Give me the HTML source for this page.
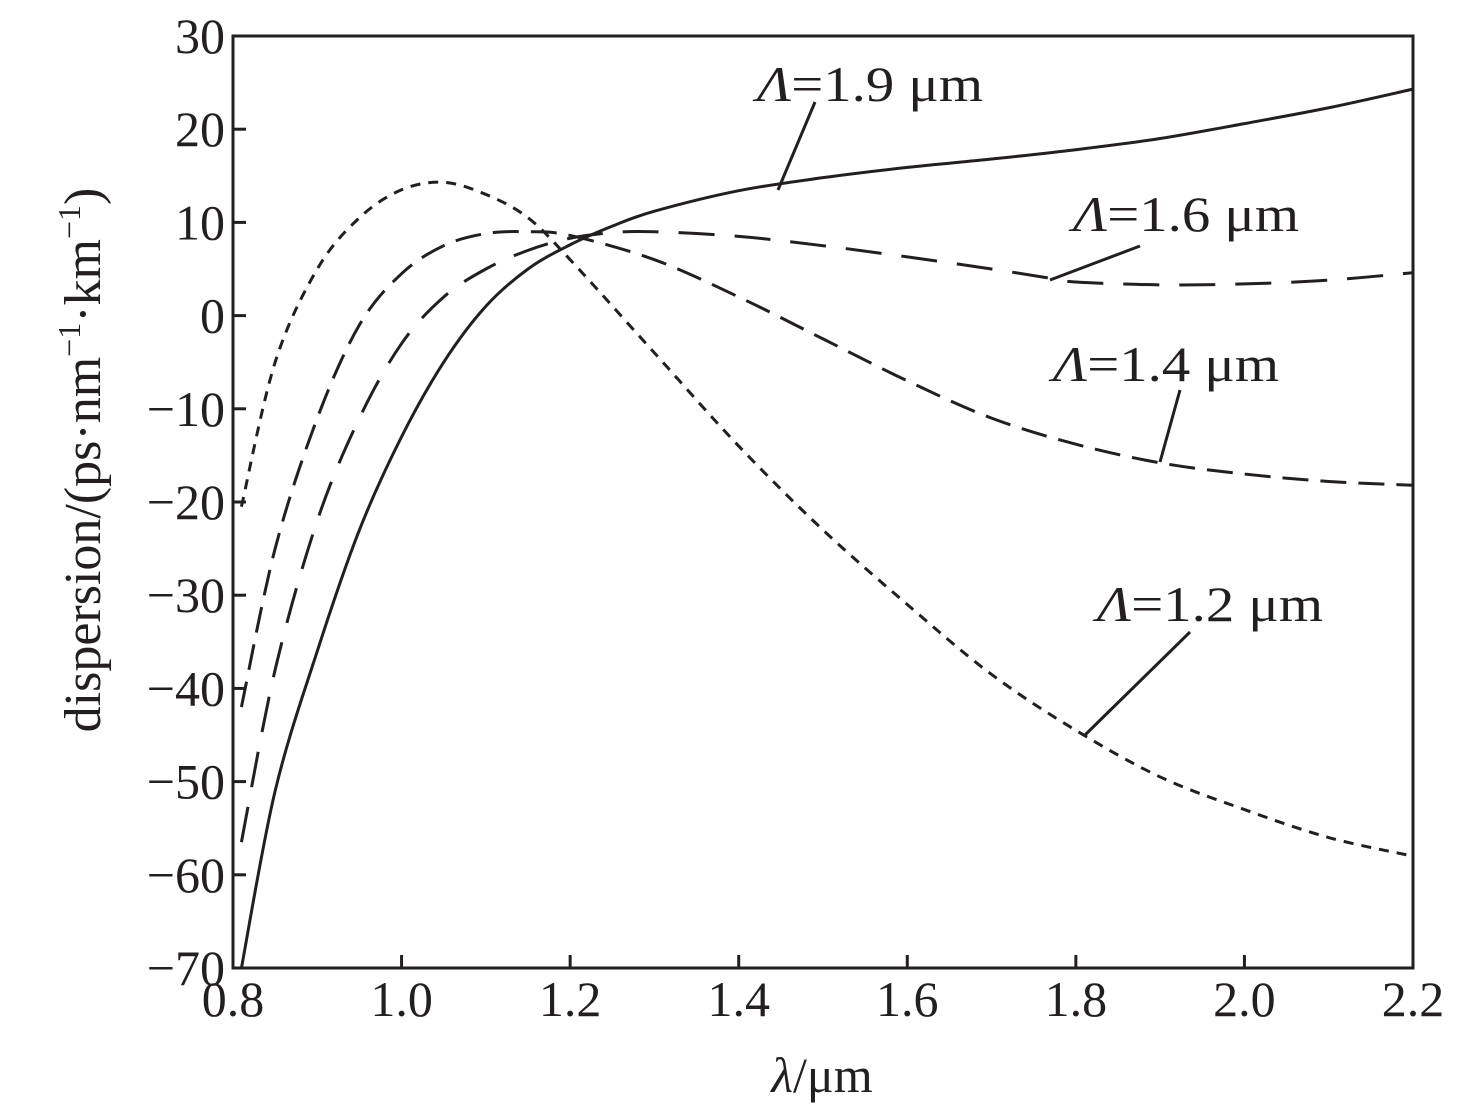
<!DOCTYPE html>
<html><head><meta charset="utf-8"><style>
body{margin:0;background:#fff}
svg{display:block}
text{font-family:"Liberation Serif",serif;fill:#231f20}
</style></head><body>
<svg id="chart" width="1476" height="1112" viewBox="0 0 1476 1112" xmlns="http://www.w3.org/2000/svg">
<g id="axes"></g>
<g id="series"></g>
<g id="labels"></g>
</svg>
<script>
const xTicks=[0.8,1.0,1.2,1.4,1.6,1.8,2.0,2.2];
const xTickLabels=["0.8","1.0","1.2","1.4","1.6","1.8","2.0","2.2"];
const yTicks=[30,20,10,0,-10,-20,-30,-40,-50,-60,-70];
const yTickLabels=["30","20","10","0","\u221210","\u221220","\u221230","\u221240","\u221250","\u221260","\u221270"];
const x19=[0.81,0.85,0.9,0.95,1.0,1.05,1.1,1.15,1.2,1.25,1.3,1.4,1.5,1.6,1.7,1.8,1.9,2.0,2.1,2.2];
const y19=[-70,-51,-36,-23,-13,-5,1,5,7.6,9.6,11.2,13.4,14.8,15.9,16.8,17.8,19,20.6,22.3,24.3];
const x16=[0.81,0.85,0.9,0.95,1.0,1.05,1.1,1.15,1.2,1.25,1.3,1.4,1.5,1.6,1.7,1.77,1.8,1.9,2.0,2.1,2.2];
const y16=[-56.5,-38,-22,-11,-3,2,5,7,8.3,8.9,9,8.5,7.5,6.3,5,4,3.6,3.3,3.4,3.8,4.6];
const x14=[0.81,0.85,0.9,0.95,1.0,1.05,1.1,1.15,1.2,1.3,1.4,1.5,1.6,1.7,1.8,1.9,2.0,2.1,2.2];
const y14=[-42,-25,-11,-1,4.5,7.5,8.8,9,8.6,6,2,-2.5,-7,-11,-13.8,-15.8,-17,-17.8,-18.2];
const x12=[0.81,0.85,0.9,0.95,1.0,1.05,1.1,1.15,1.2,1.3,1.4,1.5,1.6,1.7,1.8,1.9,2.0,2.1,2.2];
const y12=[-20.5,-5,5,10.5,13.5,14.3,13,10.5,6,-4,-14,-23,-31,-38.5,-44.5,-49.5,-53,-56,-58];

const L=233,R=1413,T=36,B=968;
const sx=v=>L+(v-0.8)/(1.4)*(R-L);
const sy=v=>T+(30-v)/100*(B-T);
const NS="http://www.w3.org/2000/svg";
function mk(tag,parent,attrs){const e=document.createElementNS(NS,tag);for(const k in attrs)e.setAttribute(k,attrs[k]);parent.appendChild(e);return e;}
const axes=document.getElementById('axes');
const frame=mk('rect',axes,{x:L,y:T,width:R-L,height:B-T,fill:'none',stroke:'#231f20','stroke-width':3});


xTicks.forEach((v,i)=>{
  const t=mk('line',axes,{x1:sx(v),x2:sx(v),y1:B,y2:B-13,stroke:'#231f20','stroke-width':3});
  
  
  const lb=mk('text',axes,{x:sx(v),y:B+48,'font-size':50,'text-anchor':'middle'});
  lb.textContent=xTickLabels[i];
  
  
});
yTicks.forEach((v,i)=>{
  const t=mk('line',axes,{x1:L,x2:L+13,y1:sy(v),y2:sy(v),stroke:'#231f20','stroke-width':3});
  
  
  const lb=mk('text',axes,{x:L-8,y:sy(v)+17,'font-size':50,'text-anchor':'end'});
  lb.textContent=yTickLabels[i];
  
  
});
const xt=mk('text',axes,{x:822,y:1092,'font-size':50,'text-anchor':'middle'});
xt.innerHTML='<tspan font-style="italic">λ</tspan>/μm';


const yt=mk('text',axes,{x:0,y:0,'font-size':52,'text-anchor':'middle',transform:'translate(100,460) rotate(-90)'});
yt.innerHTML='dispersion/(ps·nm<tspan dy="-20" font-size="32">−1</tspan><tspan dy="20">·km</tspan><tspan dy="-20" font-size="32">−1</tspan><tspan dy="20">)</tspan>';



function pathD(xs,ys){
  const p=xs.map((x,i)=>[sx(x),sy(ys[i])]);
  let d='M'+p[0][0]+','+p[0][1];
  for(let i=0;i<p.length-1;i++){
    const p0=p[i-1]||p[i],p1=p[i],p2=p[i+1],p3=p[i+2]||p2;
    const c1=[p1[0]+(p2[0]-p0[0])/6,p1[1]+(p2[1]-p0[1])/6];
    const c2=[p2[0]-(p3[0]-p1[0])/6,p2[1]-(p3[1]-p1[1])/6];
    d+=' C'+c1+' '+c2+' '+p2;
  }
  return d;
}
const ser=document.getElementById('series');
const s19=mk('path',ser,{d:pathD(x19,y19),fill:'none',stroke:'#231f20','stroke-width':3});


const s16=mk('path',ser,{d:pathD(x16,y16),fill:'none',stroke:'#231f20','stroke-width':3,'stroke-dasharray':'36 20'});


const s14=mk('path',ser,{d:pathD(x14,y14),fill:'none',stroke:'#231f20','stroke-width':3,'stroke-dasharray':'26 12'});


const s12=mk('path',ser,{d:pathD(x12,y12),fill:'none',stroke:'#231f20','stroke-width':3,'stroke-dasharray':'10 8'});



const lab=document.getElementById('labels');
function ann(name,tx,ty,txt,lx1,ly1,lx2,ly2){
  const t=mk('text',lab,{x:tx,y:ty,'font-size':50,textLength:226,lengthAdjust:'spacingAndGlyphs'});
  t.innerHTML='<tspan font-style="italic">Λ</tspan>='+txt+' μm';
  
  
  const l=mk('line',lab,{x1:lx1,y1:ly1,x2:lx2,y2:ly2,stroke:'#231f20','stroke-width':3});
  
  
}
ann('lambda-1.9',757,101,'1.9',815,102,778,190);
ann('lambda-1.6',1073,231,'1.6',1140,246,1050,280);
ann('lambda-1.4',1053,381,'1.4',1180,390,1160,462);
ann('lambda-1.2',1097,621,'1.2',1190,632,1085,735);
</script>
</body></html>
